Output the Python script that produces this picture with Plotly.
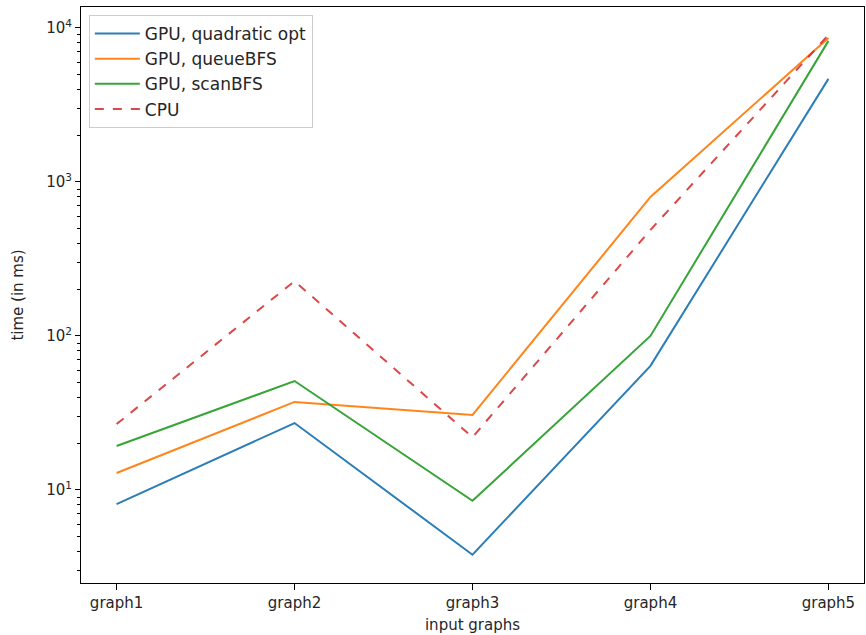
import plotly.graph_objects as go

categories = ["graph1", "graph2", "graph3", "graph4", "graph5"]
gpu_quadratic = [8.1, 27.2, 3.8, 64, 4670]
gpu_queue = [12.9, 37.3, 30.7, 800, 8600]
gpu_scan = [19.3, 51, 8.5, 100, 8240]
cpu = [26.8, 227, 22, 488, 9000]

series = [
    ("GPU, quadratic opt", gpu_quadratic, "#1f77b4", "solid"),
    ("GPU, queueBFS", gpu_queue, "#ff7f0e", "solid"),
    ("GPU, scanBFS", gpu_scan, "#2ca02c", "solid"),
    ("CPU", cpu, "#d62728", "dash"),
]

xidx = list(range(len(categories)))
fig = go.Figure()
for name, vals, color, dash in series:
    fig.add_trace(go.Scatter(
        x=xidx, y=vals, name=name, mode="lines",
        line=dict(color=color, width=2, dash=dash),
        opacity=0.85 if dash == "dash" else 0.95,
        legendgroup=name,
    ))

tick_font = dict(family="DejaVu Sans", size=15, color="#262626")
title_font = dict(family="DejaVu Sans", size=15, color="#262626")
fig.update_layout(
    width=866, height=635,
    margin=dict(l=81, r=2, t=7, b=52),
    paper_bgcolor="white", plot_bgcolor="white",
    font=tick_font,
    showlegend=True,
    legend=dict(
        x=0.01, y=0.986, xanchor="left", yanchor="top",
        bgcolor="rgba(255,255,255,0.8)", bordercolor="#cccccc", borderwidth=1,
        font=dict(family="DejaVu Sans", size=17, color="#262626"),
        tracegroupgap=0, itemwidth=45,
    ),
    xaxis=dict(
        range=[-0.2, 4.2], tickvals=xidx, ticktext=categories,
        showgrid=False, zeroline=False,
        showline=True, linecolor="black", linewidth=1, mirror=True,
        ticks="outside", ticklen=6, tickcolor="black",
        tickfont=tick_font,
        title=dict(text="input graphs", standoff=8, font=title_font),
    ),
    yaxis=dict(
        type="log", range=[0.396, 4.136],
        tickvals=[10, 100, 1000, 10000],
        ticktext=["10<sup>1</sup>", "10<sup>2</sup>", "10<sup>3</sup>", "10<sup>4</sup>"],
        showgrid=False, zeroline=False,
        showline=True, linecolor="black", linewidth=1, mirror=True,
        ticks="outside", ticklen=5, tickcolor="black",
        tickfont=tick_font,
        minor=dict(ticks="outside", ticklen=3, tickcolor="black", showgrid=False,
                   tickvals=[m * 10 ** e for e in range(0, 5) for m in range(2, 10)]),
        title=dict(text="time (in ms)", standoff=18, font=title_font),
    ),
)

fig.write_html("out.html")
